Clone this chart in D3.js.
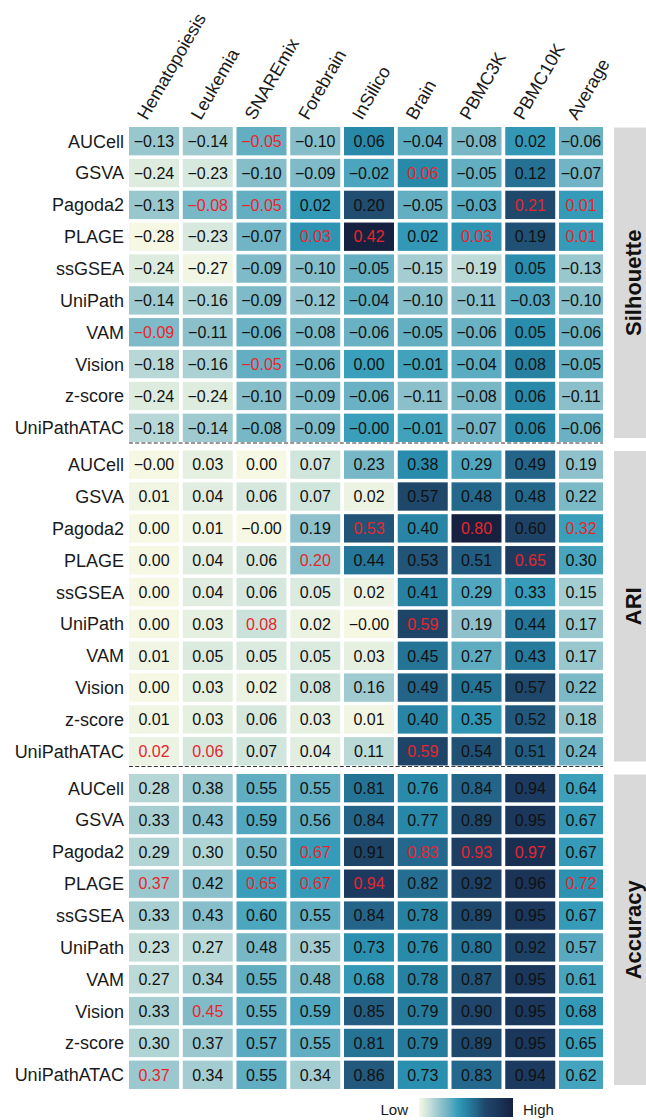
<!DOCTYPE html>
<html>
<head>
<meta charset="utf-8">
<script src="https://cdn.jsdelivr.net/npm/d3@7"></script>
<style>
  html, body { margin: 0; padding: 0; background: #ffffff; }
  svg { display: block; font-family: "Liberation Sans", Arial, Helvetica, sans-serif; }
</style>
</head>
<body>
<svg id="chart" width="646" height="1120"></svg>
<script>
// ---- data -------------------------------------------------------------
const datasets = ["Hematopoiesis", "Leukemia", "SNAREmix", "Forebrain", "InSilico",
                  "Brain", "PBMC3K", "PBMC10K", "Average"];
const methods = ["AUCell", "GSVA", "Pagoda2", "PLAGE", "ssGSEA", "UniPath",
                 "VAM", "Vision", "z-score", "UniPathATAC"];
const metrics = ["Silhouette", "ARI", "Accuracy"];

// one row per method, one column per dataset
const silhouette = [
  [-0.13, -0.14, -0.05, -0.10,  0.06, -0.04, -0.08,  0.02, -0.06],
  [-0.24, -0.23, -0.10, -0.09, -0.02,  0.06, -0.05,  0.12, -0.07],
  [-0.13, -0.08, -0.05,  0.02,  0.20, -0.05, -0.03,  0.21,  0.01],
  [-0.28, -0.23, -0.07,  0.03,  0.42,  0.02,  0.03,  0.19,  0.01],
  [-0.24, -0.27, -0.09, -0.10, -0.05, -0.15, -0.19,  0.05, -0.13],
  [-0.14, -0.16, -0.09, -0.12, -0.04, -0.10, -0.11, -0.03, -0.10],
  [-0.09, -0.11, -0.06, -0.08, -0.06, -0.05, -0.06,  0.05, -0.06],
  [-0.18, -0.16, -0.05, -0.06,  0.00, -0.01, -0.04,  0.08, -0.05],
  [-0.24, -0.24, -0.10, -0.09, -0.06, -0.11, -0.08,  0.06, -0.11],
  [-0.18, -0.14, -0.08, -0.09, -0.001, -0.01, -0.07, 0.06, -0.06]
];
const ari = [
  [-0.001, 0.03,  0.00,  0.07,  0.23,  0.38,  0.29,  0.49,  0.19],
  [ 0.01,  0.04,  0.06,  0.07,  0.02,  0.57,  0.48,  0.48,  0.22],
  [ 0.00,  0.01, -0.001, 0.19,  0.53,  0.40,  0.80,  0.60,  0.32],
  [ 0.00,  0.04,  0.06,  0.20,  0.44,  0.53,  0.51,  0.65,  0.30],
  [ 0.00,  0.04,  0.06,  0.05,  0.02,  0.41,  0.29,  0.33,  0.15],
  [ 0.00,  0.03,  0.08,  0.02, -0.001, 0.59,  0.19,  0.44,  0.17],
  [ 0.01,  0.05,  0.05,  0.05,  0.03,  0.45,  0.27,  0.43,  0.17],
  [ 0.00,  0.03,  0.02,  0.08,  0.16,  0.49,  0.45,  0.57,  0.22],
  [ 0.01,  0.03,  0.06,  0.03,  0.01,  0.40,  0.35,  0.52,  0.18],
  [ 0.02,  0.06,  0.07,  0.04,  0.11,  0.59,  0.54,  0.51,  0.24]
];
const accuracy = [
  [0.28, 0.38, 0.55, 0.55, 0.81, 0.76, 0.84, 0.94, 0.64],
  [0.33, 0.43, 0.59, 0.56, 0.84, 0.77, 0.89, 0.95, 0.67],
  [0.29, 0.30, 0.50, 0.67, 0.91, 0.83, 0.93, 0.97, 0.67],
  [0.37, 0.42, 0.65, 0.67, 0.94, 0.82, 0.92, 0.96, 0.72],
  [0.33, 0.43, 0.60, 0.55, 0.84, 0.78, 0.89, 0.95, 0.67],
  [0.23, 0.27, 0.48, 0.35, 0.73, 0.76, 0.80, 0.92, 0.57],
  [0.27, 0.34, 0.55, 0.48, 0.68, 0.78, 0.87, 0.95, 0.61],
  [0.33, 0.45, 0.55, 0.59, 0.85, 0.79, 0.90, 0.95, 0.68],
  [0.30, 0.37, 0.57, 0.55, 0.81, 0.79, 0.89, 0.95, 0.65],
  [0.37, 0.34, 0.55, 0.34, 0.86, 0.73, 0.83, 0.94, 0.62]
];
const legendLabels = ["Low", "High"];

// ---- colour --------------------------------------------------------------
const paletteStops = [0, 0.06, 0.15, 0.25, 0.33, 0.40, 0.46, 0.52, 0.60, 0.70, 0.85, 1];
const paletteColors = ["#f7f8e4", "#dcebdf", "#b5d6d6", "#88bec9", "#63aec2", "#3a9fbb",
                       "#2b90b0", "#267f9f", "#24688c", "#1f486b", "#1b365b", "#16213f"];
const palette = d3.scaleLinear().domain(paletteStops).range(paletteColors)
  .interpolate(d3.interpolateRgb).clamp(true);

// each panel has its own value -> palette-position mapping
const silhouetteScale = { domain: [-0.28, 0.42], range: [0, 1] };
const ariScale = { domain: [0, 0.80], range: [0, 1] };
const accuracyScale = { domain: [0.07, 0.76, 0.91, 0.97], range: [0, 0.48, 0.73, 0.9] };

const panels = [
  { name: metrics[0], values: silhouette, scale: silhouetteScale },
  { name: metrics[1], values: ari, scale: ariScale },
  { name: metrics[2], values: accuracy, scale: accuracyScale }
];

// ---- layout ---------------------------------------------------------------
const svg = d3.select("#chart");
const W = 646, H = 1120;
svg.append("rect").attr("width", W).attr("height", H).attr("fill", "#ffffff");

const colStep = 53.75, gridLeft = 129;
const plotRight = 603;
const x = d3.scaleBand().domain(datasets)
  .range([gridLeft - colStep * 0.035, gridLeft - colStep * 0.035 + colStep * datasets.length])
  .paddingInner(0.07).paddingOuter(0.035);

const panelTop = 127, panelPitch = 323.5, panelHeight = 311.5;
const rowStep = panelHeight / (methods.length - 0.11);

const fmt = v => (v < 0 ? "\u2212" : "") + Math.abs(v).toFixed(2);
const RED = "#e6262d", INK = "#111111";

// column headers
svg.append("g").selectAll("text").data(datasets).join("text")
  .attr("transform", d => `translate(${x(d) + x.bandwidth() / 2 - 7},121) rotate(-60)`)
  .attr("text-anchor", "start")
  .attr("font-size", 18)
  .attr("fill", "#1a1a1a")
  .text(d => d);

panels.forEach((p, k) => {
  const top = panelTop + k * panelPitch;
  const y = d3.scaleBand().domain(methods)
    .range([top, top + rowStep * methods.length])
    .paddingInner(0.11).paddingOuter(0);

  const toT = d3.scaleLinear().domain(p.scale.domain).range(p.scale.range).clamp(true);

  // column maxima (on the two-decimal values shown)
  const colMax = datasets.map((_, j) => d3.max(p.values, r => Math.round(r[j] * 100)));

  const cells = [];
  p.values.forEach((row, i) => row.forEach((v, j) => {
    cells.push({ method: methods[i], dataset: datasets[j], value: v,
                 best: Math.round(v * 100) === colMax[j] });
  }));

  const g = svg.append("g").attr("class", "panel");

  g.selectAll("rect.cell").data(cells).join("rect")
    .attr("class", "cell")
    .attr("x", d => x(d.dataset))
    .attr("y", d => y(d.method))
    .attr("width", d => Math.min(x.bandwidth(), plotRight - x(d.dataset)))
    .attr("height", y.bandwidth())
    .attr("fill", d => palette(toT(d.value)));

  g.selectAll("text.val").data(cells).join("text")
    .attr("class", "val")
    .attr("x", d => x(d.dataset) + Math.min(x.bandwidth(), plotRight - x(d.dataset)) / 2)
    .attr("y", d => y(d.method) + y.bandwidth() / 2)
    .attr("dy", "0.36em")
    .attr("text-anchor", "middle")
    .attr("font-size", 16)
    .attr("fill", d => d.best ? RED : INK)
    .text(d => fmt(d.value));

  // row labels
  g.selectAll("text.row").data(methods).join("text")
    .attr("class", "row")
    .attr("x", 124)
    .attr("y", d => y(d) + y.bandwidth() / 2)
    .attr("dy", "0.36em")
    .attr("text-anchor", "end")
    .attr("font-size", 18)
    .attr("fill", "#1a1a1a")
    .text(d => d);

  // facet strip
  const stripTop = top + 0.5, stripBottom = top + panelHeight - 0.5;
  g.append("rect")
    .attr("x", 614).attr("y", stripTop)
    .attr("width", 32).attr("height", stripBottom - stripTop)
    .attr("fill", "#d9d9d9");
  g.append("text")
    .attr("transform", `translate(641,${(stripTop + stripBottom) / 2}) rotate(-90)`)
    .attr("text-anchor", "middle")
    .attr("font-size", 22)
    .attr("font-weight", "bold")
    .attr("fill", "#111111")
    .text(p.name);

  // dashed separator below the panel
  if (k < panels.length - 1) {
    const sepY = top + panelHeight + (panelPitch - panelHeight) / 2 - 1.5;
    svg.append("line")
      .attr("x1", gridLeft).attr("x2", plotRight)
      .attr("y1", sepY).attr("y2", sepY)
      .attr("stroke", "#333333").attr("stroke-width", 1.1)
      .attr("stroke-dasharray", "4,2.2");
  }
});

// ---- legend ---------------------------------------------------------------
const defs = svg.append("defs");
const grad = defs.append("linearGradient").attr("id", "legendGrad")
  .attr("x1", "0%").attr("x2", "100%").attr("y1", "0%").attr("y2", "0%");
grad.selectAll("stop").data(paletteStops).join("stop")
  .attr("offset", d => (d * 100) + "%")
  .attr("stop-color", (d, i) => paletteColors[i]);

const legX = 419, legY = 1098, legW = 94, legH = 19;
svg.append("rect").attr("x", legX).attr("y", legY)
  .attr("width", legW).attr("height", legH)
  .attr("fill", "url(#legendGrad)");
svg.append("text").attr("x", legX - 11).attr("y", legY + legH - 2)
  .attr("text-anchor", "end").attr("font-size", 15).attr("fill", "#1a1a1a")
  .text(legendLabels[0]);
svg.append("text").attr("x", legX + legW + 10).attr("y", legY + legH - 2)
  .attr("text-anchor", "start").attr("font-size", 15).attr("fill", "#1a1a1a")
  .text(legendLabels[1]);
</script>
</body>
</html>
